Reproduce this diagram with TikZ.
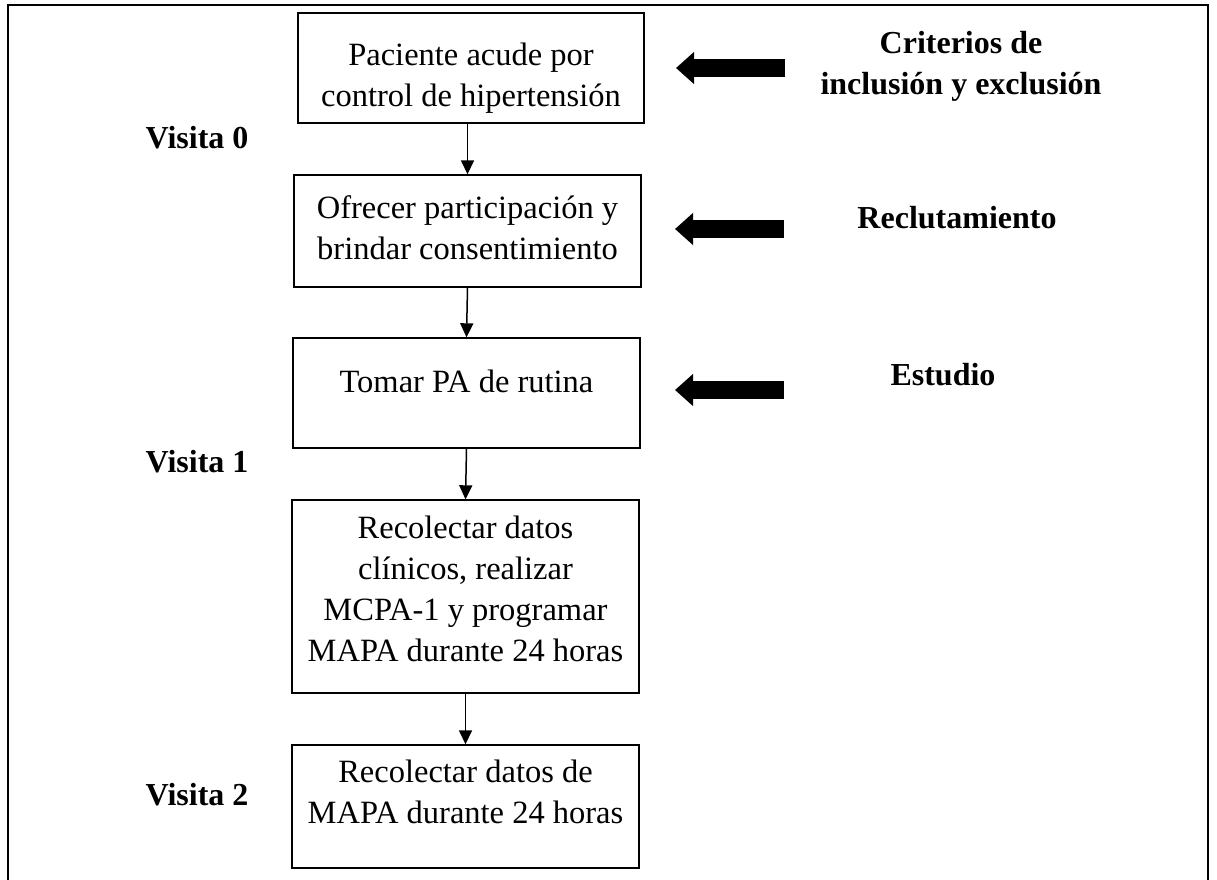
\documentclass[tikz,border=0pt]{standalone}
\usepackage{fontspec}
\setmainfont{Liberation Serif}
\usetikzlibrary{arrows.meta}
\begin{document}
\begin{tikzpicture}[x=1pt,y=-1pt,
  boxshape/.style={draw, line width=1.4pt, inner sep=0pt},
  boxtext/.style={anchor=base, inner sep=0pt, font=\fontsize{32.5}{41}\selectfont},
  sidelabel/.style={anchor=base, inner sep=0pt, font=\fontsize{32}{41}\selectfont\bfseries},
  flow/.style={line width=1.5pt, -{Triangle[length=14pt,width=13pt]}},
  fat/.style={line width=18pt, -{Triangle[length=18pt,width=31pt]}}
]
\useasboundingbox (0,0) rectangle (1217,879);
\begin{scope}
\clip (0,0) rectangle (1217,879);
\draw[line width=2.2pt] (8,890) -- (8,5) -- (1208,5) -- (1208,890);
\end{scope}

% boxes
\node[boxshape, minimum width=346pt, minimum height=110pt] (b1) at (471,68) {};
\node[boxshape, minimum width=347pt, minimum height=112pt] (b2) at (467.5,231) {};
\node[boxshape, minimum width=347pt, minimum height=110pt] (b3) at (466.5,393) {};
\node[boxshape, minimum width=347pt, minimum height=193pt] (b4) at (465.5,596.5) {};
\node[boxshape, minimum width=347pt, minimum height=123pt] (b5) at (465.5,806.5) {};

% box texts
\node[boxtext] (t1) at (471,65) {\begin{tabular}[t]{@{}c@{}}Paciente acude por\\control de hipertensión\end{tabular}};
\node[boxtext] (t2) at (467.5,218) {\begin{tabular}[t]{@{}c@{}}Ofrecer participación y\\brindar consentimiento\end{tabular}};
\node[boxtext] (t3) at (466.5,392) {Tomar PA de rutina};
\node[boxtext] (t4) at (465.5,538) {\begin{tabular}[t]{@{}c@{}}Recolectar datos\\clínicos, realizar\\MCPA-1 y programar\\MAPA durante 24 horas\end{tabular}};
\node[boxtext] (t5) at (465.5,782) {\begin{tabular}[t]{@{}c@{}}Recolectar datos de\\MAPA durante 24 horas\end{tabular}};

% flow arrows
\draw[flow] (b1.south -| b2.north) -- (b2.north);
\draw[flow] (b2.south) -- (b3.north);
\draw[flow] (b3.south) -- (b4.north);
\draw[flow] (b4.south) -- (b5.north);

% visit labels
\node[sidelabel] (v0) at (197,148) {Visita 0};
\node[sidelabel] (v1) at (197,472) {Visita 1};
\node[sidelabel] (v2) at (197,805) {Visita 2};

% right labels
\node[sidelabel] (l1) at (961,53) {\begin{tabular}[t]{@{}c@{}}Criterios de\\inclusión y exclusión\end{tabular}};
\node[sidelabel] (l2) at (957,228) {Reclutamiento};
\node[sidelabel] (l3) at (943,385) {Estudio};

% fat arrows
\coordinate (f1s) at (785,68);  \coordinate (f1e) at (676,68);
\coordinate (f2s) at (784,229); \coordinate (f2e) at (675,229);
\coordinate (f3s) at (784,390); \coordinate (f3e) at (675,390);
\draw[fat] (f1s) -- (f1e);
\draw[fat] (f2s) -- (f2e);
\draw[fat] (f3s) -- (f3e);
\end{tikzpicture}
\end{document}
